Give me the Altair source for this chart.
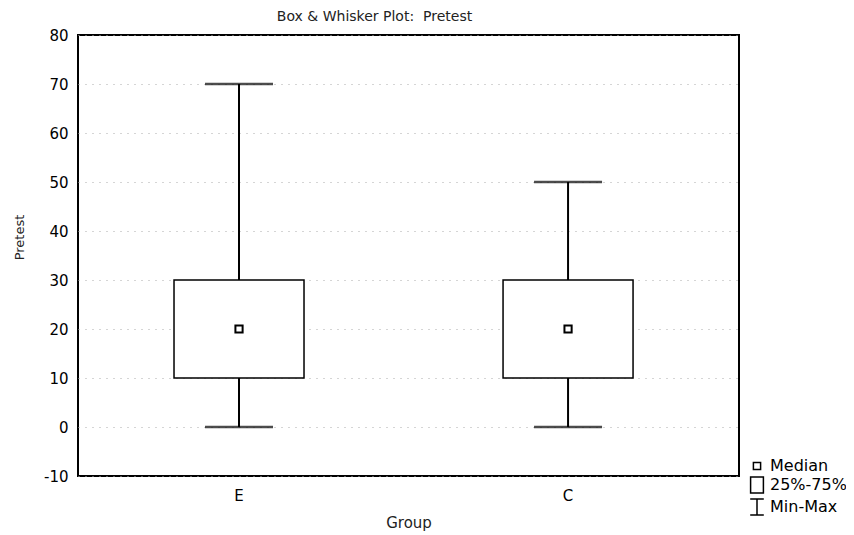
import altair as alt
import pandas as pd

groups = ["E", "C"]
mins = [0, 0]
q1 = [10, 10]
medians = [20, 20]
q3 = [30, 30]
maxs = [70, 50]
legend_items = ["Median", "25%-75%", "Min-Max"]
y_ticks = [-10, 0, 10, 20, 30, 40, 50, 60, 70, 80]

df = pd.DataFrame({"Group": groups, "min": mins, "q1": q1, "median": medians,
                   "q3": q3, "max": maxs, "item": ["Median", "Median"]})

FONT = "DejaVu Sans"

x_enc = alt.X("Group:N", sort=groups, title="Group",
              scale=alt.Scale(paddingInner=0.0213, paddingOuter=0.0151, align=0, round=False),
              axis=alt.Axis(labelAngle=0, tickSize=0, labelFontSize=15, titleFontSize=15,
                            titlePadding=12, labelPadding=12, domain=False,
                            labelColor="black", titleColor="#222", titleFontWeight="normal"))
y_scale = alt.Scale(domain=[-10, 80], nice=False, zero=False)
y_axis = alt.Axis(values=y_ticks, tickSize=0, labelFontSize=15, titleFontSize=13,
                  labelExpr="datum.value < 0 ? '-' + abs(datum.value) : datum.label",
                  labelPadding=10, domain=False, labelColor="black",
                  titleColor="#222", titleFontWeight="normal",
                  titleX=-59, titleY=202, titleAngle=270, titleAlign="center",
                  titleBaseline="middle",
                  grid=True, gridDash=[1, 6], gridColor="#aaa", gridWidth=1)

base = alt.Chart(df)

grid = base.mark_rule(opacity=0).encode(
    x=x_enc, y=alt.Y("median:Q", scale=y_scale, axis=y_axis, title="Pretest"))

low_whisk = base.mark_rule(color="black", strokeWidth=2).encode(
    x=alt.X("Group:N", sort=groups), y=alt.Y("min:Q"), y2="q1:Q")
high_whisk = base.mark_rule(color="black", strokeWidth=2).encode(
    x=alt.X("Group:N", sort=groups), y=alt.Y("q3:Q"), y2="max:Q")
cap_low = base.mark_tick(color="black", size=68, thickness=2.5).encode(
    x=alt.X("Group:N", sort=groups), y=alt.Y("min:Q"))
cap_high = base.mark_tick(color="black", size=68, thickness=2.5).encode(
    x=alt.X("Group:N", sort=groups), y=alt.Y("max:Q"))
box = base.mark_bar(size=130, fill="white", stroke="black", strokeWidth=1.5).encode(
    x=alt.X("Group:N", sort=groups), y=alt.Y("q1:Q"), y2="q3:Q")

shape_range = [
    "M-0.45,-0.45H0.45V0.45H-0.45Z",
    "M-0.8,-1H0.8V1H-0.8Z",
    "M-0.85,-1H0.85M0,-1V1M-0.85,1H0.85",
]
med = base.mark_point(size=256, filled=False, color="black", strokeWidth=2, opacity=1).encode(
    x=alt.X("Group:N", sort=groups), y=alt.Y("median:Q"),
    shape=alt.Shape("item:N", scale=alt.Scale(domain=legend_items, range=shape_range),
                    legend=alt.Legend(title=None, orient="none", legendX=670, legendY=422,
                                      symbolSize=256, symbolStrokeColor="black",
                                      symbolFillColor="white", symbolStrokeWidth=1.5,
                                      symbolOpacity=1, labelFontSize=16, labelColor="black",
                                      labelFont=FONT, rowPadding=0, labelOffset=4)))

chart = alt.layer(grid, box, low_whisk, high_whisk, cap_low, cap_high, med).properties(
    width=661, height=441,
    background="white",
    title=alt.TitleParams("Box & Whisker Plot:\u00a0 Pretest", fontSize=14, fontWeight="normal",
                          font=FONT, anchor="middle", frame="group", dx=-34, offset=4,
                          color="#222"),
    autosize=alt.AutoSizeParams(type="none"),
    padding={"left": 70, "top": 27, "right": 107, "bottom": 58},
).configure_view(stroke="black", strokeWidth=2).configure_axis(
    labelFont=FONT, titleFont=FONT
)

chart.save("out.html", embed_options={"renderer": "svg", "actions": False})
